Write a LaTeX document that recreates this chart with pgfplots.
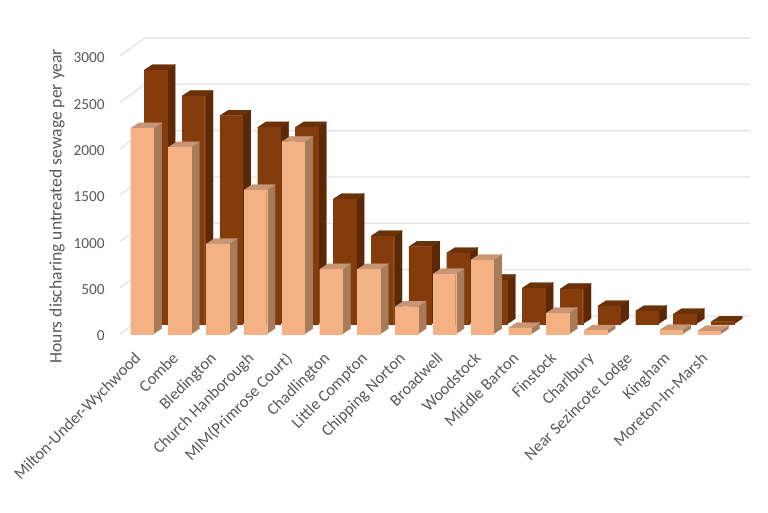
\documentclass[border=0pt]{standalone}
\usepackage{fontspec}
\setmainfont{Carlito}
\usepackage{pgfplots}
\usepackage{pgfplotstable}
\pgfplotsset{compat=1.18}

\definecolor{txt}{HTML}{595959}
\definecolor{gridc}{HTML}{E3E3E3}
\definecolor{lightF}{HTML}{F4B183}
\definecolor{lightS}{HTML}{A67C5B}
\definecolor{lightT}{HTML}{C99675}
\definecolor{darkF}{HTML}{843C0C}
\definecolor{darkS}{HTML}{5B2907}
\definecolor{darkT}{HTML}{6B3108}

% hours per year
\pgfplotstableread{
idx back front
0 2740 2219
1 2460 2014
2 2247 971
3 2122 1553
4 2122 2074
5 1348 698
6 949 698
7 834 295
8 766 647
9 475 798
10 388 65
11 378 226
12 194 38
13 140 0
14 108 43
15 25 32
}\hours

% #1 category, #2 value, #3 x shift, #4 y shift, #5 front, #6 side, #7 top
\newcommand{\prism}[7]{%
  \pgfmathsetmacro\xa{#1+#3-0.299}
  \pgfmathsetmacro\xb{#1+#3+0.299}
  \pgfmathsetmacro\xc{\xb+0.22}
  \pgfmathsetmacro\xd{\xa+0.22}
  \pgfmathsetmacro\ya{#4}
  \pgfmathsetmacro\yb{#4+#2}
  \pgfmathsetmacro\yc{\ya+59}
  \pgfmathsetmacro\yd{\yb+59}
  \addplot[fill=#6,draw=#6,line width=0.2pt,forget plot] coordinates {(\xb,\ya) (\xc,\yc) (\xc,\yd) (\xb,\yb) (\xb,\ya)};
  \addplot[fill=#7,draw=#7,line width=0.2pt,forget plot] coordinates {(\xa,\yb) (\xb,\yb) (\xc,\yd) (\xd,\yd) (\xa,\yb)};
  \addplot[fill=#5,draw=#5,line width=0.2pt,forget plot] coordinates {(\xa,\ya) (\xb,\ya) (\xb,\yb) (\xa,\yb) (\xa,\ya)};
}

\begin{document}
\begin{tikzpicture}
\path[use as bounding box] (0,0) rectangle (576pt,384pt);
\begin{axis}[
    at={(90pt,133.5pt)},anchor=south west,
    width=472.5pt,height=222pt,scale only axis,
    xmin=-0.582,xmax=16.085,ymin=0,ymax=3193,
    axis line style={draw=none},
    major tick length=0pt,
    no markers,clip=false,
    ytick={0,500,1000,1500,2000,2500,3000},
    xtick={0,...,15},
    xticklabels={Milton-Under-Wychwood,Combe,Bledington,Church Hanborough,MIM(Primrose Court),Chadlington,Little Compton,Chipping Norton,Broadwell,Woodstock,Middle Barton,Finstock,Charlbury,Near Sezincote Lodge,Kingham,Moreton-In-Marsh},
    x tick label style={xshift=-6.5pt,yshift=-8pt,rotate=45,anchor=north east,font=\fontsize{12.4pt}{14pt}\selectfont,text=txt},
    y tick label style={font=\fontsize{11.5pt}{13pt}\selectfont,text=txt,xshift=-8pt,yshift=-1.5pt},
    /pgf/number format/assume math mode=true,
    /pgf/number format/1000 sep={},
    ylabel={Hours discharing untreated sewage per year},
    every axis y label/.style={at={(rel axis cs:-0.1,0.432)},rotate=90,anchor=center,font=\fontsize{13.2pt}{15pt}\selectfont,text=txt},
  ]
  % wall and floor grid
  \pgfplotsinvokeforeach{0,500,1000,1500,2000,2500,3000}{
    \pgfmathsetmacro\gy{#1+194}
    \addplot[gridc,line width=1pt,forget plot] coordinates {(-0.582,#1) (0.079,\gy) (16.085,\gy)};
  }
  \pgfplotsinvokeforeach{0,...,15}{
    \pgfplotstablegetelem{#1}{back}\of\hours
    \prism{#1}{\pgfplotsretval}{0.36}{108}{darkF}{darkS}{darkT}
  }
  \pgfplotsinvokeforeach{0,...,15}{
    \pgfplotstablegetelem{#1}{front}\of\hours
    \ifnum\pgfplotsretval>0
      \prism{#1}{\pgfplotsretval}{0}{0}{lightF}{lightS}{lightT}
    \fi
  }
\end{axis}
\end{tikzpicture}
\end{document}
